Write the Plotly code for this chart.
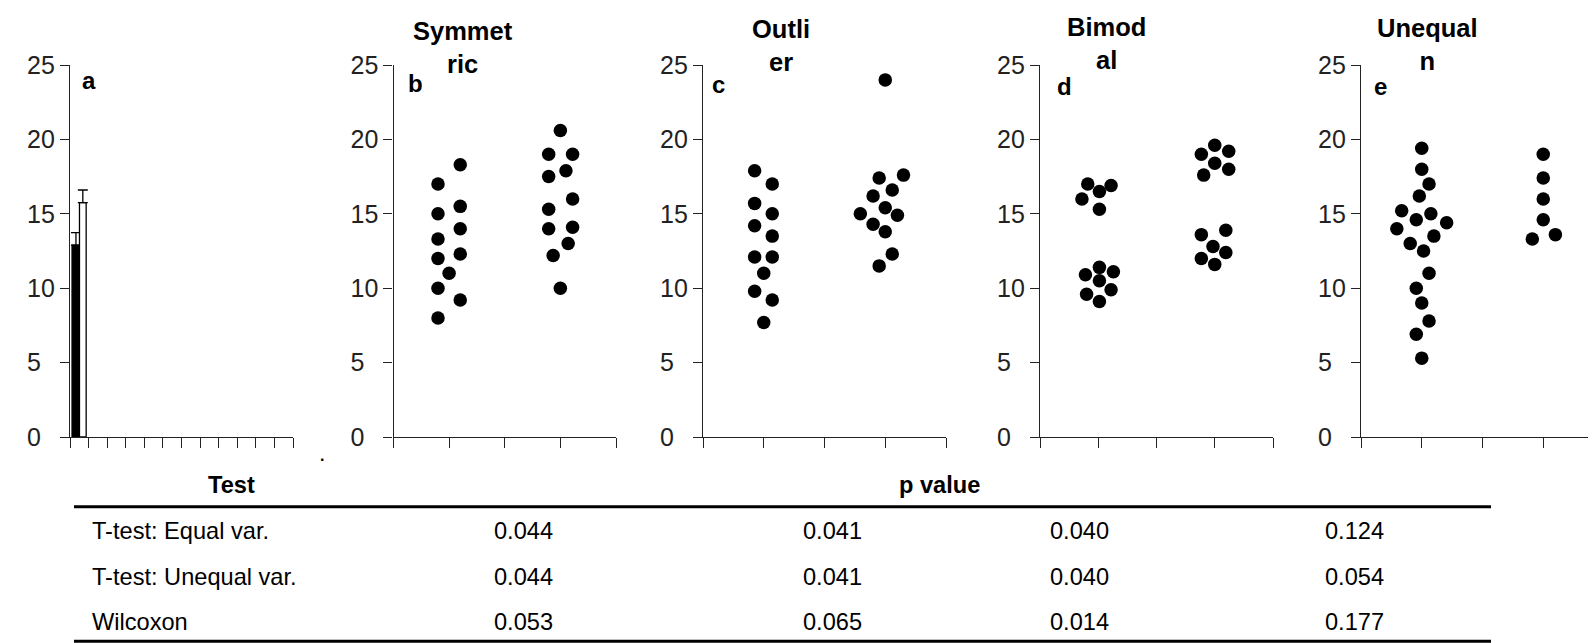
import plotly.graph_objects as go

W, H = 1596, 643
FONT = "Liberation Sans, Arial, sans-serif"

# ---------------- data ----------------
# panel a: bar means with upper error bars
bar_groups = ["Group 1", "Group 2"]
bar_means = [12.9, 15.75]
bar_err = [0.83, 0.85]
bar_fill = ["black", "white"]
bar_pos = [0.32, 0.69]
bar_width = [0.42, 0.36]

# panels b-e: dot plots, two groups each (values + beeswarm offsets)
sym_g1 = [17.0, 15.0, 13.3, 12.0, 10.0, 8.0, 11.0, 18.3, 15.5, 14.0, 12.3, 9.2]
sym_g1_dx = [-0.2, -0.2, -0.2, -0.2, -0.2, -0.2, 0.0, 0.2, 0.2, 0.2, 0.2, 0.2]
sym_g2 = [20.6, 19.0, 19.0, 17.9, 17.5, 16.0, 15.3, 14.0, 14.1, 13.0, 12.2, 10.0]
sym_g2_dx = [0.0, -0.21, 0.22, 0.1, -0.21, 0.22, -0.21, -0.21, 0.22, 0.14, -0.13, 0.0]

out_g1 = [17.9, 17.0, 15.7, 15.0, 14.2, 13.5, 12.1, 12.1, 11.0, 9.8, 9.2, 7.7]
out_g1_dx = [-0.15, 0.14, -0.15, 0.14, -0.15, 0.14, -0.15, 0.14, 0.0, -0.15, 0.14, 0.0]
out_g2 = [24.0, 17.6, 17.4, 16.6, 16.2, 15.4, 15.0, 14.9, 14.3, 13.8, 12.3, 11.5]
out_g2_dx = [0.0, 0.30, -0.10, 0.115, -0.2, 0.0, -0.41, 0.2, -0.2, 0.0, 0.115, -0.10]

bim_g1 = [17.0, 16.9, 16.5, 16.0, 15.3, 11.4, 10.9, 11.1, 10.5, 9.6, 9.9, 9.1]
bim_g1_dx = [-0.18, 0.22, 0.02, -0.28, 0.02, 0.02, -0.22, 0.26, 0.02, -0.2, 0.22, 0.02]
bim_g2 = [19.6, 19.0, 19.2, 18.4, 18.0, 17.6, 13.9, 13.6, 12.8, 12.4, 12.0, 11.6]
bim_g2_dx = [0.0, -0.23, 0.24, 0.0, 0.24, -0.19, 0.19, -0.23, -0.03, 0.19, -0.23, 0.0]

une_g1 = [19.4, 18.0, 17.0, 16.2, 15.2, 15.0, 14.6, 14.4, 14.0, 13.5, 13.0, 12.5,
          11.0, 10.0, 9.0, 7.8, 6.9, 5.3]
une_g1_dx = [0.0, 0.0, 0.12, -0.04, -0.33, 0.15, -0.09, 0.41, -0.41, 0.2, -0.19, 0.03,
             0.12, -0.09, 0.0, 0.12, -0.09, 0.0]
une_g2 = [19.0, 17.4, 16.0, 14.6, 13.3, 13.6]
une_g2_dx = [0.0, 0.0, 0.0, 0.0, -0.18, 0.2]

group_x = [1, 3]

panel_titles = ["Symmet<br>ric", "Outli<br>er", "Bimod<br>al", "Unequal<br>n"]
panel_letters = ["a", "b", "c", "d", "e"]

y_ticks = [0, 5, 10, 15, 20, 25]
y_ticktext = ["0\u00a0\u00a0", "5\u00a0\u00a0", "10", "15", "20", "25"]

# table
table_header = ["Test", "p value"]
tests = ["T-test: Equal var.", "T-test: Unequal var.", "Wilcoxon"]
p_symmetric = ["0.044", "0.044", "0.053"]
p_outlier = ["0.041", "0.041", "0.065"]
p_bimodal = ["0.040", "0.040", "0.014"]
p_unequal = ["0.124", "0.054", "0.177"]

# ---------------- layout helpers ----------------
OFF = 8  # page body margin


def px(x):
    return min(max((x - OFF) / W, 0.0), 1.0)


def py(y):
    return min(max(1 - (y - OFF) / H, 0.0), 1.0)


Y_TOP, Y_BOT = 65, 437
x_domains_px = [(70, 293), (393.5, 616), (703, 946), (1040, 1273), (1361, 1604)]
x_ranges = [[0, 12], [0, 4], [0, 4], [0, 4], [0, 4]]
x_tickvals = [list(range(13)), list(range(5)), list(range(5)), list(range(5)), list(range(5))]

fig = go.Figure()

AXC = "#222222"

layout = dict(
    width=W, height=H,
    margin=dict(l=0, r=0, t=0, b=0, pad=0, autoexpand=False),
    paper_bgcolor="white", plot_bgcolor="white",
    showlegend=False,
    font=dict(family=FONT, color="black"),
)

for i in range(5):
    n = "" if i == 0 else str(i + 1)
    d0, d1 = x_domains_px[i]
    layout["xaxis" + n] = dict(
        domain=[px(d0), px(d1)], range=x_ranges[i],
        anchor="y" + n, showline=True, linecolor=AXC, linewidth=1.3,
        ticks="outside", ticklen=10, tickwidth=1.3, tickcolor=AXC,
        tickvals=x_tickvals[i], showticklabels=False, automargin=False,
        showgrid=False, zeroline=False, fixedrange=True,
    )
    layout["yaxis" + n] = dict(
        domain=[py(Y_BOT), py(Y_TOP)], range=[0, 25],
        anchor="x" + n, showline=True, linecolor=AXC, linewidth=1.3,
        ticks="outside", ticklen=9, tickwidth=1.3, tickcolor=AXC,
        tickvals=y_ticks, ticktext=y_ticktext, automargin=False,
        tickfont=dict(size=25, family=FONT, color="#222"),
        showgrid=False, zeroline=False, fixedrange=True,
    )

fig.update_layout(**layout)

# panel a bars
for k in range(2):
    fig.add_trace(go.Bar(
        x=[bar_pos[k]], y=[bar_means[k]], width=[bar_width[k]], name=bar_groups[k],
        marker=dict(color=bar_fill[k], line=dict(color="black", width=1.3)),
        error_y=dict(type="data", array=[bar_err[k]], arrayminus=[0], symmetric=False,
                     color="black", thickness=1.3, width=5),
        xaxis="x", yaxis="y",
    ))

# panels b-e dots
dot_sets = [
    (sym_g1, sym_g1_dx, sym_g2, sym_g2_dx),
    (out_g1, out_g1_dx, out_g2, out_g2_dx),
    (bim_g1, bim_g1_dx, bim_g2, bim_g2_dx),
    (une_g1, une_g1_dx, une_g2, une_g2_dx),
]
for i, (g1, g1dx, g2, g2dx) in enumerate(dot_sets):
    n = str(i + 2)
    for gx, vals, dxs in ((group_x[0], g1, g1dx), (group_x[1], g2, g2dx)):
        fig.add_trace(go.Scatter(
            x=[gx + d for d in dxs], y=vals, mode="markers",
            marker=dict(color="black", size=13.5, line=dict(width=0)),
            xaxis="x" + n, yaxis="y" + n, cliponaxis=False,
        ))

ann = []
# panel titles
title_pos = [(463, 48), (781, 46), (1106, 43), (1427, 44)]
for t, (tx, ty) in zip(panel_titles, title_pos):
    ann.append(dict(text=f"<b>{t}</b>", x=px(tx), y=py(ty), xref="paper", yref="paper",
                    xanchor="center", yanchor="middle", showarrow=False,
                    font=dict(size=25.5, family=FONT, color="black")))
# panel letters
letter_pos = [(80, 80.5), (406, 83.3), (710, 84.5), (1055, 86.7), (1372, 86.2)]
for t, (lx, ly) in zip(panel_letters, letter_pos):
    ann.append(dict(text=f"<b>{t}</b>", x=px(lx), y=py(ly), xref="paper", yref="paper",
                    xanchor="left", yanchor="middle", showarrow=False,
                    font=dict(size=24, family=FONT, color="black")))
# stray dot
ann.append(dict(text="<b>.</b>", x=px(322), y=py(455), xref="paper", yref="paper",
                xanchor="center", yanchor="middle", showarrow=False,
                font=dict(size=16, family=FONT, color="black")))

# table
header_pos = [(231, 485), (939, 485)]
for t, (hx, hy) in zip(table_header, header_pos):
    ann.append(dict(text=f"<b>{t}</b>", x=px(hx), y=py(hy), xref="paper", yref="paper",
                    xanchor="center", yanchor="middle", showarrow=False,
                    font=dict(size=23.6, family=FONT, color="black")))
row_y = [531, 576.7, 621.7]
col_x = [523, 832, 1079, 1354]
cols = [p_symmetric, p_outlier, p_bimodal, p_unequal]
for r, name in enumerate(tests):
    ann.append(dict(text=name, x=px(89.5), y=py(row_y[r]), xref="paper", yref="paper",
                    xanchor="left", yanchor="middle", showarrow=False,
                    font=dict(size=23.6, family=FONT, color="black")))
    for c, col in enumerate(cols):
        ann.append(dict(text=col[r], x=px(col_x[c]), y=py(row_y[r]), xref="paper", yref="paper",
                        xanchor="center", yanchor="middle", showarrow=False,
                        font=dict(size=23.6, family=FONT, color="black")))

shapes = []
for ly in (506.7, 641.3):
    shapes.append(dict(type="line", xref="paper", yref="paper",
                       x0=px(74), x1=px(1491), y0=py(ly), y1=py(ly),
                       line=dict(color="black", width=2.9)))

fig.update_layout(annotations=ann, shapes=shapes)

fig.write_html("out.html")
